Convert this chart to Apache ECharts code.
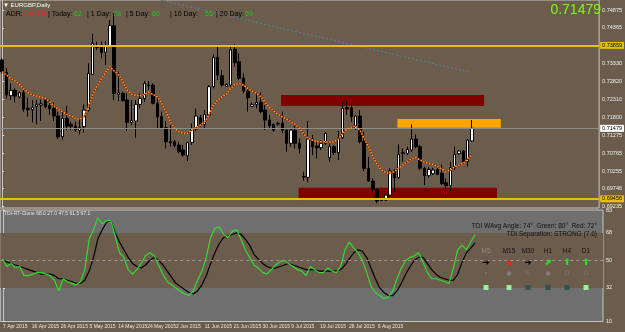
<!DOCTYPE html>
<html>
<head>
<meta charset="utf-8">
<script src="https://cdn.jsdelivr.net/npm/echarts@6/dist/echarts.min.js"></script>
<style>
  html, body { margin: 0; padding: 0; background: #6b5c4c; }
  #chart { width: 625px; height: 332px; }
</style>
</head>
<body>
<div id="chart"></div>
<script>
// EURGBP Daily - candle values
const opens = [0.73440,0.73086,0.72416,0.72569,0.72378,0.72502,0.72052,0.72014,0.72110,0.72148,
  0.72292,0.72129,0.72052,0.71832,0.71239,0.71765,0.71593,0.71545,0.71421,0.71526,
  0.72005,0.73029,0.73852,0.73823,0.73660,0.73852,0.74426,0.72454,0.72483,0.72292,
  0.71650,0.71689,0.72167,0.72339,0.72722,0.72722,0.72196,0.71813,0.71497,0.71095,
  0.71095,0.71000,0.70856,0.70693,0.71076,0.71459,0.71784,0.71593,0.71861,0.72674,
  0.73517,0.72990,0.72684,0.72722,0.73746,0.73392,0.72914,0.72550,0.72110,0.72167,
  0.72225,0.72005,0.71717,0.71593,0.71622,0.71622,0.71430,0.71048,0.71430,0.71048,
  0.70100,0.70071,0.71172,0.70971,0.70923,0.71048,0.70636,0.70952,0.70780,0.71210,
  0.72072,0.72072,0.71478,0.71832,0.71095,0.70330,0.69966,0.69727,0.69449,0.69421,
  0.69564,0.70253,0.70062,0.70751,0.70760,0.70856,0.71172,0.70952,0.70330,0.70119,
  0.70177,0.70301,0.70186,0.69918,0.69832,0.70349,0.70751,0.70827,0.70521,0.71115];
const closes = [0.73105,0.72435,0.72569,0.72406,0.72502,0.72033,0.72014,0.72081,0.72167,0.72186,
  0.72100,0.72043,0.71832,0.71239,0.71765,0.71545,0.71526,0.71430,0.71497,0.72005,
  0.73057,0.73919,0.73794,0.73660,0.73852,0.74426,0.72483,0.72502,0.72273,0.71650,
  0.71708,0.72167,0.72339,0.72770,0.72703,0.72196,0.71813,0.71497,0.71095,0.71067,
  0.70981,0.70808,0.70713,0.71067,0.71478,0.71832,0.71593,0.71880,0.72674,0.73517,
  0.73009,0.72722,0.72741,0.73727,0.73363,0.72914,0.72550,0.72359,0.72167,0.72225,
  0.71957,0.71717,0.71555,0.71430,0.71603,0.71430,0.71048,0.71430,0.71048,0.70904,
  0.70081,0.71172,0.70952,0.70923,0.71048,0.71335,0.70952,0.70780,0.71210,0.72052,
  0.72033,0.71813,0.71832,0.71095,0.70330,0.69966,0.69727,0.69392,0.69411,0.69564,
  0.70253,0.70062,0.70732,0.70789,0.70875,0.71172,0.70952,0.70330,0.70119,0.70301,
  0.70282,0.70158,0.69899,0.69832,0.70349,0.70732,0.70827,0.70521,0.71143,0.71479];
const lows = [0.73057,0.72339,0.72292,0.72225,0.72339,0.71957,0.71813,0.71650,0.71593,0.71689,
  0.72052,0.71861,0.71689,0.71172,0.71143,0.71430,0.71430,0.71382,0.71306,0.71363,
  0.71957,0.73009,0.73727,0.73488,0.73296,0.73823,0.72292,0.72263,0.72244,0.71402,
  0.71574,0.71210,0.72052,0.72225,0.72579,0.72167,0.71478,0.71459,0.70904,0.70952,
  0.70923,0.70760,0.70665,0.70540,0.71000,0.71402,0.71526,0.71459,0.71813,0.72627,
  0.72866,0.72674,0.72674,0.72674,0.73249,0.72866,0.72483,0.71957,0.72091,0.72052,
  0.71909,0.71430,0.71478,0.71382,0.71555,0.71335,0.70808,0.70952,0.70904,0.70760,
  0.69976,0.69928,0.70713,0.70617,0.70856,0.71000,0.70521,0.70713,0.70569,0.71172,
  0.71861,0.71670,0.71430,0.71048,0.70253,0.69947,0.69660,0.69325,0.69392,0.69392,
  0.69516,0.69660,0.70024,0.70521,0.70713,0.70808,0.70904,0.70282,0.69851,0.70062,
  0.70138,0.70138,0.69851,0.69516,0.69679,0.70282,0.70713,0.70473,0.70378,0.71095];
const highs = [0.73488,0.73201,0.72770,0.72627,0.72531,0.72579,0.72359,0.72292,0.72292,0.72311,
  0.72339,0.72292,0.72225,0.71957,0.71957,0.72129,0.71670,0.71670,0.71765,0.72167,
  0.73344,0.74187,0.73966,0.73966,0.73986,0.74588,0.74789,0.73105,0.72531,0.72483,
  0.72292,0.72292,0.72483,0.72837,0.72837,0.72770,0.72339,0.71957,0.71689,0.71574,
  0.71143,0.71095,0.71000,0.71095,0.71622,0.72052,0.71861,0.72005,0.72722,0.73603,
  0.73842,0.73153,0.72770,0.73842,0.73890,0.73631,0.73057,0.72674,0.72225,0.72483,
  0.72512,0.72148,0.71861,0.71622,0.71670,0.71957,0.71478,0.71478,0.71555,0.71191,
  0.70234,0.71689,0.71287,0.71095,0.71143,0.71382,0.71048,0.71000,0.71402,0.72244,
  0.72244,0.72225,0.71861,0.72005,0.71382,0.70665,0.70043,0.69756,0.69468,0.69612,
  0.70330,0.70311,0.71019,0.70904,0.70952,0.71593,0.71306,0.71000,0.70378,0.70378,
  0.70349,0.70378,0.70445,0.70043,0.70521,0.70952,0.70856,0.70856,0.71172,0.71717];
// dotted moving average over the candles
const maValues = [0.73105,0.73009,0.72914,0.72837,0.72741,0.72607,0.72512,0.72435,0.72406,0.72368,
  0.72339,0.72244,0.72129,0.72024,0.71957,0.71880,0.71832,0.71765,0.71746,0.71813,
  0.72100,0.72435,0.72703,0.72895,0.73086,0.73249,0.73124,0.73009,0.72818,0.72579,
  0.72464,0.72416,0.72416,0.72454,0.72512,0.72454,0.72387,0.72196,0.71957,0.71670,
  0.71478,0.71382,0.71335,0.71335,0.71430,0.71497,0.71574,0.71670,0.71861,0.72148,
  0.72292,0.72387,0.72454,0.72627,0.72741,0.72770,0.72722,0.72627,0.72550,0.72483,
  0.72387,0.72225,0.72072,0.71976,0.71880,0.71813,0.71746,0.71670,0.71593,0.71478,
  0.71316,0.71191,0.71143,0.71095,0.71095,0.71095,0.71076,0.71095,0.71172,0.71335,
  0.71459,0.71497,0.71545,0.71430,0.71191,0.70952,0.70665,0.70445,0.70282,0.70215,
  0.70186,0.70234,0.70330,0.70426,0.70521,0.70598,0.70636,0.70569,0.70502,0.70473,
  0.70445,0.70378,0.70311,0.70234,0.70282,0.70378,0.70426,0.70473,0.70598,0.70732];
// TDI panel lines
const tdiGreen = [51,46,48,45,46,40,40,41,42,42, 41,40,37,30,38,36,35,34,36,44,
  64,70,78,74,76,76,66,55,52,44, 41,44,48,53,55,53,47,41,36,34,
  32,30,28,27,30,37,43,52,65,71, 72,67,65,69,70,64,57,52,47,45,
  42,41,44,47,49,50,48,46,44,43, 40,46,44,42,42,45,43,42,46,57,
  62,58,55,50,42,33,29,27,25,26, 30,38,45,50,52,53,55,49,42,38,
  38,37,36,35,45,57,60,57,62,67];
const tdiSignal = [50,49,48,47,46,45,44,43,42,41, 41,41,40,38,38,37,36,35,35,37,
  43,52,64,70,75,76,68,62,57,52, 48,46,45,47,50,52,50,47,43,39,
  35,33,31,29,28,30,34,40,48,55, 61,65,66,67,68,67,64,60,54,51,
  48,46,45,45,46,47,48,47,46,45, 44,44,44,43,43,43,43,43,44,47,
  51,55,57,56,52,45,38,32,29,27, 27,30,35,41,46,50,52,52,48,44,
  41,39,38,37,37,41,49,55,58,61.5];
const dateLabels = ['7 Apr 2015','16 Apr 2015','26 Apr 2015','5 May 2015','14 May 2015','24 May 2015',
  '2 Jun 2015','11 Jun 2015','21 Jun 2015','30 Jun 2015','9 Jul 2015','19 Jul 2015','28 Jul 2015','6 Aug 2015'];
const priceTicks = [0.74875,0.74365,0.73330,0.72820,0.72310,0.71800,0.71275,0.70765,0.70255,0.69746,0.69235];
const tdiTicks = [83,68,50,32,10];
// drawn objects: zones (bar position from/to, price top/bottom), levels, trend line
const zoneFrom = [64.7, 68.8, 91.7];
const zoneTo = [111.8, 114.8, 115.7];
const zoneTop = [0.72435, 0.69775, 0.71747];
const zoneBottom = [0.72120, 0.69470, 0.71497];
const yellowLevels = [0.73859, 0.69456];
const lastPrice = 0.71479;
const trendLine = [[36.8, 0.75162], [108.8, 0.73081]];

const BROWN = '#6b5c4c';
const FRAME = '#c4c4c4';
const SMALL_FONT = '"Liberation Sans Narrow", "Liberation Sans", sans-serif';
const barSlots = 139;
const cats = Array.from({length: barSlots}, (_, i) => String(i));
const candles = opens.map((o, i) => [o, closes[i], lows[i], highs[i]]);
const zoneColors = ['#800000', '#800000', '#ffa500'];

const chart = echarts.init(document.getElementById('chart'));

function txt(x, y, text, color, size, extra) {
  return {
    type: 'text', x: x, y: y, z: 100, silent: true,
    style: Object.assign({text: text, fill: color, fontSize: size, fontFamily: 'Liberation Sans', verticalAlign: 'middle'}, extra || {})
  };
}

const levelLines = yellowLevels.map(v => ({
  yAxis: v,
  lineStyle: {color: '#e6bf00', width: 2, type: 'solid'},
  label: {show: true, position: 'end', distance: 1, formatter: () => v.toFixed(5),
    backgroundColor: '#e6bf00', color: '#000', fontSize: 5.5, fontFamily: SMALL_FONT, padding: [1, 2, 0, 2]}
}));
levelLines.push({
  yAxis: lastPrice,
  lineStyle: {color: '#8c8c8c', width: 1, type: 'solid'},
  label: {show: true, position: 'end', distance: 1, formatter: () => lastPrice.toFixed(5),
    backgroundColor: '#ffffff', color: '#000', fontSize: 5.5, fontFamily: SMALL_FONT, padding: [1, 2, 0, 2]}
});

const tf = ['M5', 'M15', 'M30', 'H1', 'H4', 'D1'];
const tfX = [486, 509, 528, 548, 567, 586];
const arrows = [['\u279C', '#000'], ['\u2B0A', '#ff1a1a'], ['\u279C', '#000'], ['\u2B08', '#22e022'], ['\u2B06', '#22e022'], ['\u2B06', '#22e022']];
const dots = ['\u2022', '\u25CF', '%', '\u25CF', 'O', 'O'];
const squares = ['#98f098', '#98f098', '#2f5252', '#2f5252', '#2f5252', '#98f098'];

const graphics = [
  txt(3, 5, '\u25BC EURGBP,Daily', '#ffffff', 6),
  txt(6, 14, 'ADR:', '#000', 7), txt(23, 14, '109.1%', '#ff1e1e', 7),
  txt(48, 14, '| Today:', '#000', 7), txt(74, 14, '62', '#1ecb1e', 7),
  txt(87, 14, '| 1 Day:', '#000', 7), txt(113, 14, '78', '#1ecb1e', 7),
  txt(126, 14, '| 5 Day:', '#000', 7), txt(152, 14, '60', '#1ecb1e', 7),
  txt(170, 14, '| 10 Day:', '#000', 7), txt(205, 14, '55', '#1ecb1e', 7),
  txt(216, 14, '| 20 Day:', '#000', 7), txt(245, 14, '59', '#1ecb1e', 7),
  txt(601, 10, '0.71479', '#7cfc00', 14, {align: 'right'}),
  txt(4, 214, 'TDI-RT-Clone 68.0 27.0 47.5 61.5 67.1', '#e8e8e8', 5, {fontFamily: SMALL_FONT}),
  txt(597, 226, 'TDI WAvg Angle: 74\u00B0  Green: 80\u00B0  Red: 72\u00B0', '#111', 6.5, {align: 'right'}),
  txt(597, 234.5, 'TDI Separation: STRONG (7.6)', '#111', 6.5, {align: 'right'})
];
tf.forEach((t, i) => {
  graphics.push(txt(tfX[i], 251, t, i === 0 ? '#8a8a8a' : '#111', 6.5, {align: 'center'}));
  graphics.push(txt(tfX[i], 263, arrows[i][0], arrows[i][1], 9, {align: 'center', fontFamily: 'DejaVu Sans', fontWeight: 'bold'}));
  graphics.push(txt(tfX[i], 273, dots[i], '#7c7c7c', 6, {align: 'center', fontFamily: 'DejaVu Sans'}));
  graphics.push({type: 'rect', z: 100, silent: true, shape: {x: tfX[i] - 2.5, y: 285, width: 5, height: 5}, style: {fill: squares[i]}});
});

const option = {
  animation: false,
  backgroundColor: BROWN,
  textStyle: {fontFamily: 'Liberation Sans'},
  grid: [
    {left: 0, top: 0, width: 603, height: 208, show: true, borderColor: FRAME, borderWidth: 1, backgroundColor: 'transparent'},
    {left: 0, top: 210, width: 603, height: 111.5, show: true, borderColor: FRAME, borderWidth: 1, backgroundColor: '#6f6f6f'}
  ],
  xAxis: [
    {type: 'category', gridIndex: 0, data: cats, boundaryGap: true, show: false},
    {type: 'value', gridIndex: 0, min: -0.5, max: barSlots - 0.5, show: false},
    {type: 'category', gridIndex: 1, data: cats, boundaryGap: true, show: false},
    {type: 'value', gridIndex: 1, min: -0.094, max: 20.81, position: 'bottom',
      axisLine: {show: false}, axisTick: {show: false}, splitLine: {show: false},
      axisLabel: {customValues: dateLabels.map((d, i) => i), formatter: v => dateLabels[Math.round(v)] || '',
        align: 'left', fontSize: 5, fontFamily: SMALL_FONT, color: '#e6e6e6', margin: 3}}
  ],
  yAxis: [
    {type: 'value', gridIndex: 0, position: 'right', min: 0.69193, max: 0.75162,
      splitLine: {show: false}, axisLine: {show: true, lineStyle: {color: FRAME}},
      axisTick: {show: true, length: 2, customValues: priceTicks, lineStyle: {color: '#e0e0e0'}},
      axisLabel: {customValues: priceTicks, formatter: v => v.toFixed(5), fontSize: 5.5, fontFamily: SMALL_FONT, color: '#f0f0f0', margin: 3}},
    {type: 'value', gridIndex: 1, position: 'right', min: 10, max: 83,
      splitLine: {show: false}, axisLine: {show: true, lineStyle: {color: FRAME}},
      axisTick: {show: true, length: 2, customValues: tdiTicks, lineStyle: {color: '#e0e0e0'}},
      axisLabel: {customValues: tdiTicks, fontSize: 5.5, fontFamily: SMALL_FONT, color: '#f0f0f0', margin: 3}}
  ],
  series: [
    {
      type: 'custom', xAxisIndex: 1, yAxisIndex: 0, z: 1, silent: true,
      encode: {x: [0, 1], y: [2, 3]},
      data: zoneFrom.map((f, i) => [f, zoneTo[i], zoneTop[i], zoneBottom[i]]),
      renderItem: (params, api) => {
        const a = api.coord([api.value(0), api.value(2)]);
        const b = api.coord([api.value(1), api.value(3)]);
        return {type: 'rect', shape: {x: a[0], y: a[1], width: b[0] - a[0], height: b[1] - a[1]},
          style: {fill: zoneColors[params.dataIndex]}};
      }
    },
    {
      type: 'candlestick', xAxisIndex: 0, yAxisIndex: 0, z: 3, barWidth: 3, silent: true,
      data: candles,
      itemStyle: {color: '#ffffff', color0: '#000000', borderColor: '#000000', borderColor0: '#000000', borderWidth: 1}
    },
    {
      type: 'line', xAxisIndex: 0, yAxisIndex: 0, z: 4, data: maValues, symbol: 'none', silent: true,
      lineStyle: {color: '#8b1a00', width: 1.5},
      markLine: {silent: true, symbol: ['none', 'none'], precision: 5, animation: false, data: levelLines}
    },
    {
      type: 'line', xAxisIndex: 0, yAxisIndex: 0, z: 5, data: maValues, symbol: 'none', silent: true,
      lineStyle: {color: '#ffa020', width: 1.5, type: [1.5, 1.5]}
    },
    {
      type: 'line', xAxisIndex: 1, yAxisIndex: 0, z: 4, data: trendLine, symbol: 'none', silent: true,
      lineStyle: {color: '#8a3aa0', width: 1, type: [2, 2]}
    },
    {
      type: 'line', xAxisIndex: 1, yAxisIndex: 0, z: 4, data: trendLine, symbol: 'none', silent: true,
      lineStyle: {color: '#3aa050', width: 1, type: [2, 2], dashOffset: 2}
    },
    {
      type: 'line', xAxisIndex: 2, yAxisIndex: 1, z: 3, data: tdiSignal, symbol: 'none', silent: true,
      lineStyle: {color: '#000000', width: 1.2},
      markArea: {silent: true, itemStyle: {color: BROWN}, data: [[{yAxis: 68}, {yAxis: 32}]]},
      markLine: {silent: true, symbol: ['none', 'none'], label: {show: false},
        lineStyle: {color: '#9a9a9a', width: 1, type: [3, 3]}, data: [{yAxis: 50}]}
    },
    {
      type: 'line', xAxisIndex: 2, yAxisIndex: 1, z: 4, data: tdiGreen, symbol: 'none', silent: true,
      lineStyle: {color: '#32dc32', width: 1.2}
    }
  ],
  graphic: graphics
};

chart.setOption(option);
</script>
</body>
</html>
